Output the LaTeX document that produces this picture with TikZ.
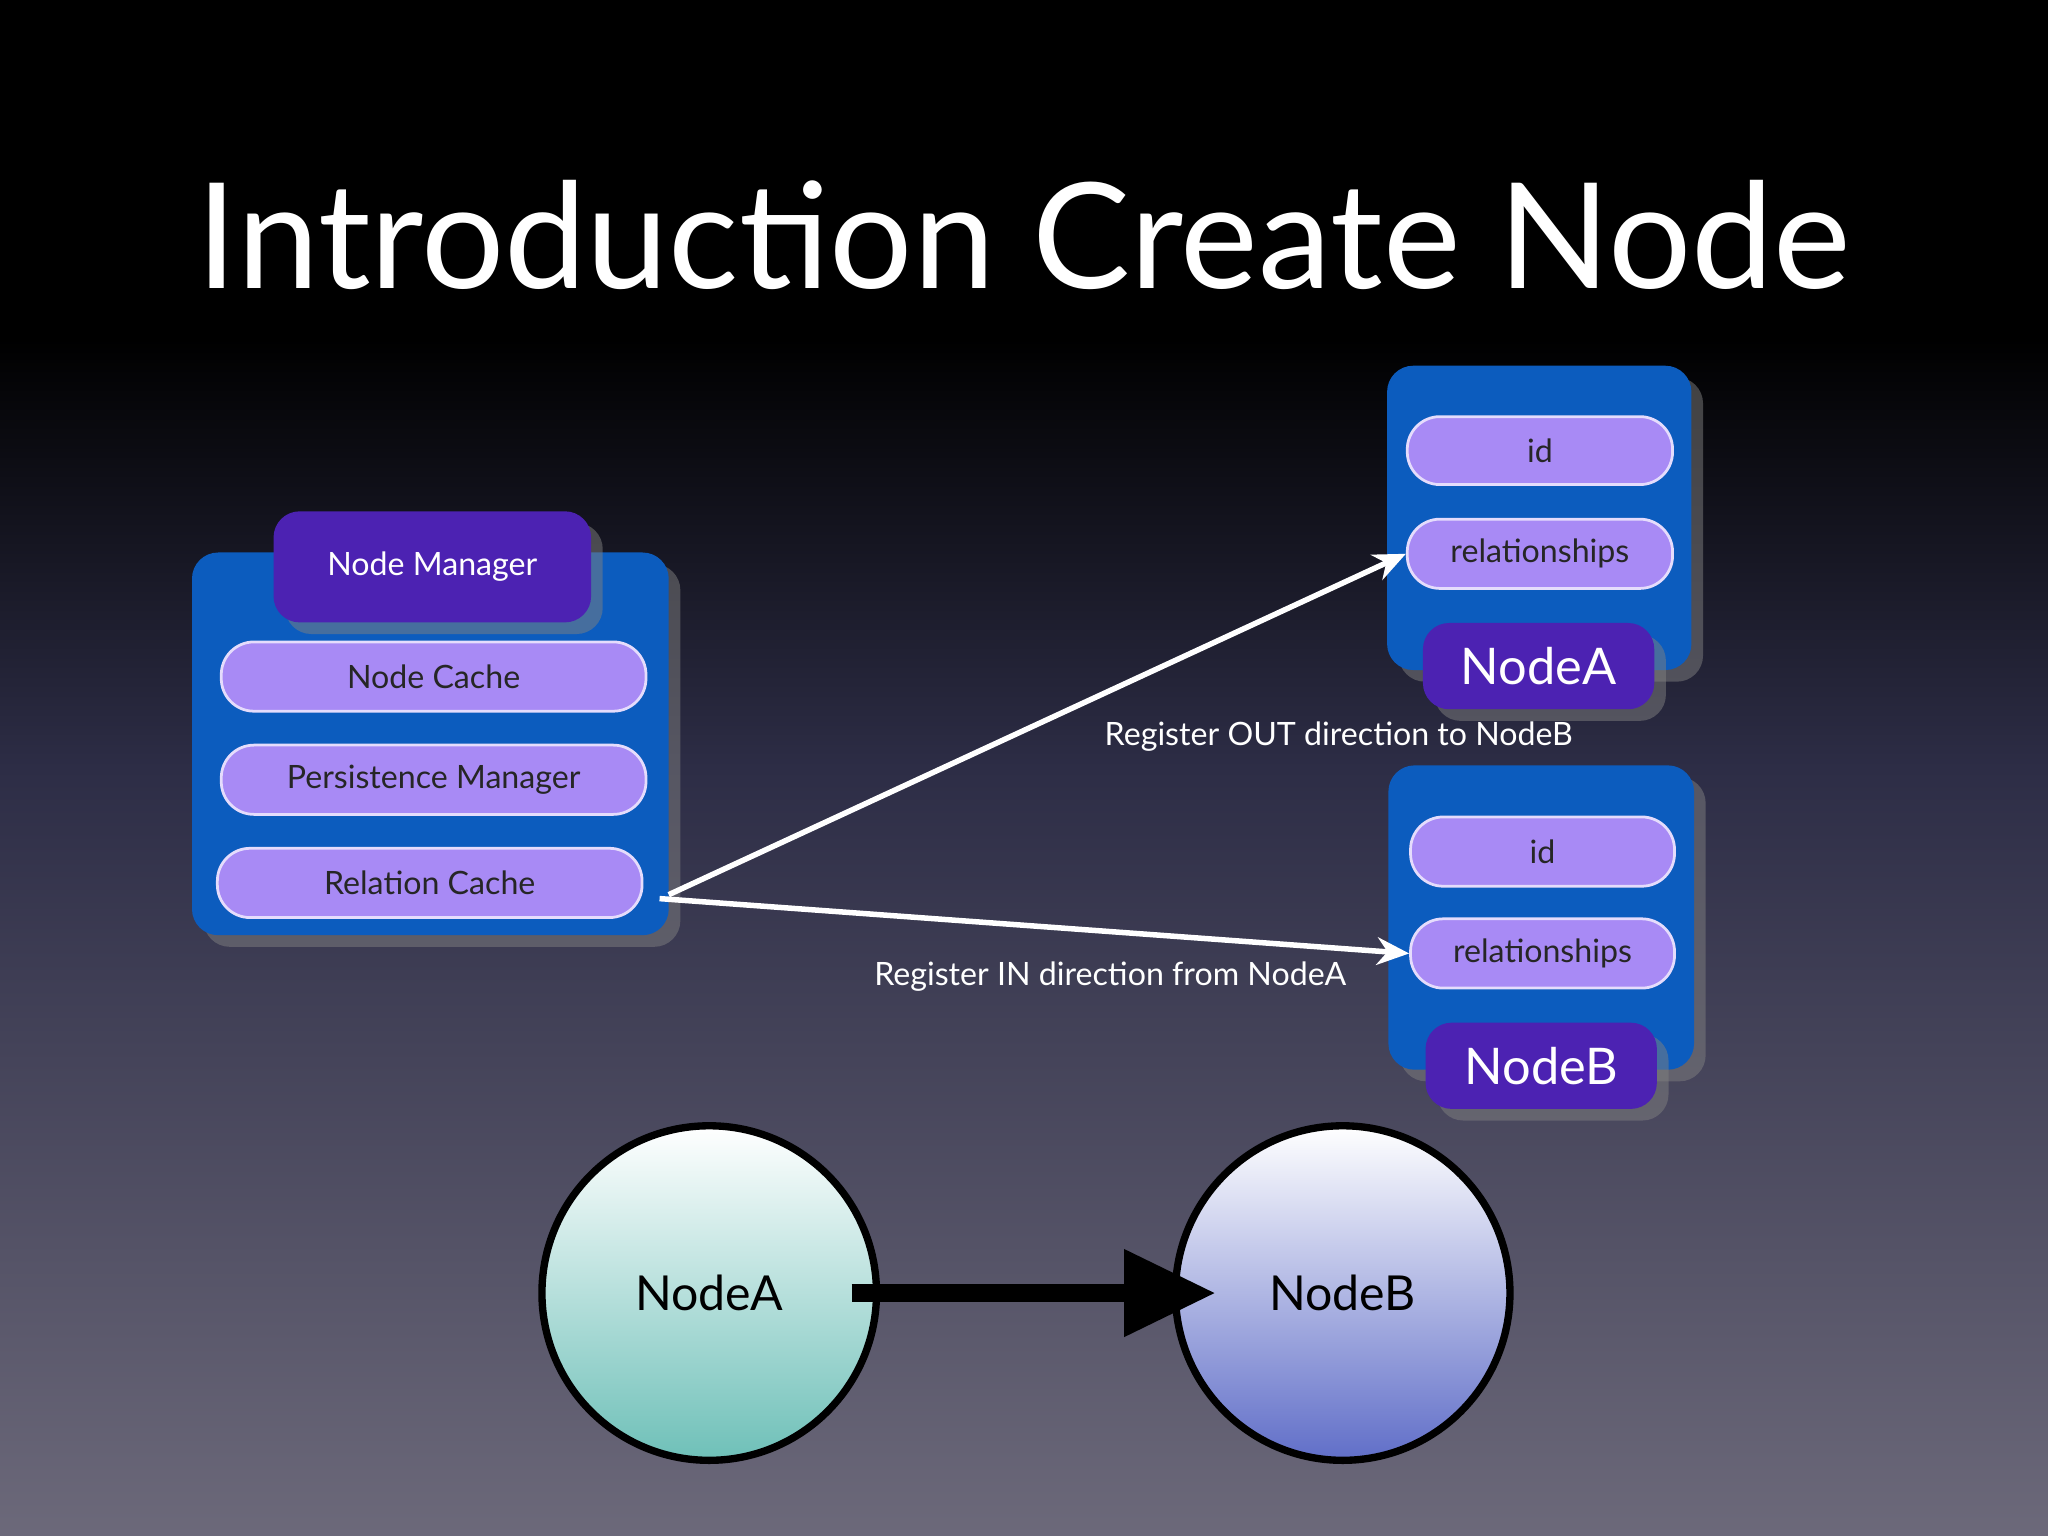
\documentclass[tikz,border=0pt]{standalone}
\usepackage{fontspec}
\setmainfont{Lato}
\usetikzlibrary{shadows,arrows.meta}
\definecolor{boxblue}{RGB}{12,92,190}
\definecolor{tabpurple}{RGB}{76,34,178}
\definecolor{pill}{RGB}{168,138,245}
\begin{document}
\begin{tikzpicture}[x=0.01cm,y=-0.01cm,
  box/.style={draw=none,fill=boxblue,rounded corners=0.2cm,drop shadow={opacity=0.5}},
  tab/.style={fill=tabpurple,rounded corners=0.2cm,text=white,drop shadow={opacity=0.5}},
  pil/.style={fill=pill,rounded corners=0.25cm,text=black!85,font=\fontsize{7pt}{8pt}\selectfont,draw=white!70!pill,line width=0.6pt},
  lbl/.style={text=white,font=\fontsize{7pt}{8pt}\selectfont},
  warr/.style={draw=white,line width=1.2pt,-{Stealth[length=7pt,width=6pt]}},
  circ/.style={circle,draw=black,line width=1.6pt,minimum size=2.56cm,font=\fontsize{10.5pt}{12pt}\selectfont}]
\shade[top color=black,bottom color={rgb,255:red,108;green,105;blue,122},middle color={rgb,255:red,45;green,45;blue,70}] (0,0) rectangle (1568,1176);
\fill[black] (0,0) rectangle (1568,260);
\shade[top color=black,bottom color={rgb,255:red,45;green,45;blue,70}] (0,259) rectangle (1568,588);
\useasboundingbox (0,0) rectangle (1568,1176);
\node[text=white,font=\fontsize{32pt}{36pt}\selectfont] (title) at (784,180) {Introduction Create Node};
% left box
\path[box] (147,423) rectangle (512,716);
\node[tab,minimum width=2.43cm,minimum height=0.85cm,font=\fontsize{7pt}{8pt}\selectfont] (nm) at (331,434) {Node Manager};
\node[pil,minimum width=3.25cm,minimum height=0.53cm] (nc) at (332,518) {Node Cache};
\node[pil,minimum width=3.25cm,minimum height=0.53cm] (pm) at (332,597) {Persistence Manager};
\node[pil,minimum width=3.25cm,minimum height=0.53cm] (rc) at (329,676) {Relation Cache};
% node A box
\path[box] (1062,280) rectangle (1295,513);
\node[pil,minimum width=2.03cm,minimum height=0.52cm] (ida) at (1179,345) {id};
\node[pil,minimum width=2.03cm,minimum height=0.53cm] (rela) at (1179,424) {relationships};
\node[tab,minimum width=1.77cm,minimum height=0.66cm,font=\fontsize{11pt}{12pt}\selectfont] (na) at (1178,510) {NodeA};
% node B box
\path[box] (1063,586) rectangle (1297,819);
\node[pil,minimum width=2.02cm,minimum height=0.53cm] (idb) at (1181,652) {id};
\node[pil,minimum width=2.02cm,minimum height=0.53cm] (relb) at (1181,730) {relationships};
\node[tab,minimum width=1.77cm,minimum height=0.66cm,font=\fontsize{11pt}{12pt}\selectfont] (nb) at (1180,816) {NodeB};
% arrows
\coordinate (s1) at (512,685);
\coordinate (s2) at (505,688);
\draw[warr] (s1) -- (rela.west);
\draw[warr] (s2) -- (relb.west);
\node[lbl] (l1) at (1025,564) {Register OUT direction to NodeB};
\node[lbl] (l2) at (850,748) {Register IN direction from NodeA};
% circles
\node[circ,top color=white,bottom color={rgb,255:red,110;green,192;blue,184}] (ca) at (543,990) {NodeA};
\node[circ,top color=white,bottom color={rgb,255:red,96;green,110;blue,200}] (cb) at (1028,990) {NodeB};
\draw[line width=4pt,-{Triangle[length=20pt,width=18pt]}] (ca.center) ++(109,0) coordinate (cs) -- ([xshift=-0.97cm]cb.center);
\end{tikzpicture}
\end{document}
